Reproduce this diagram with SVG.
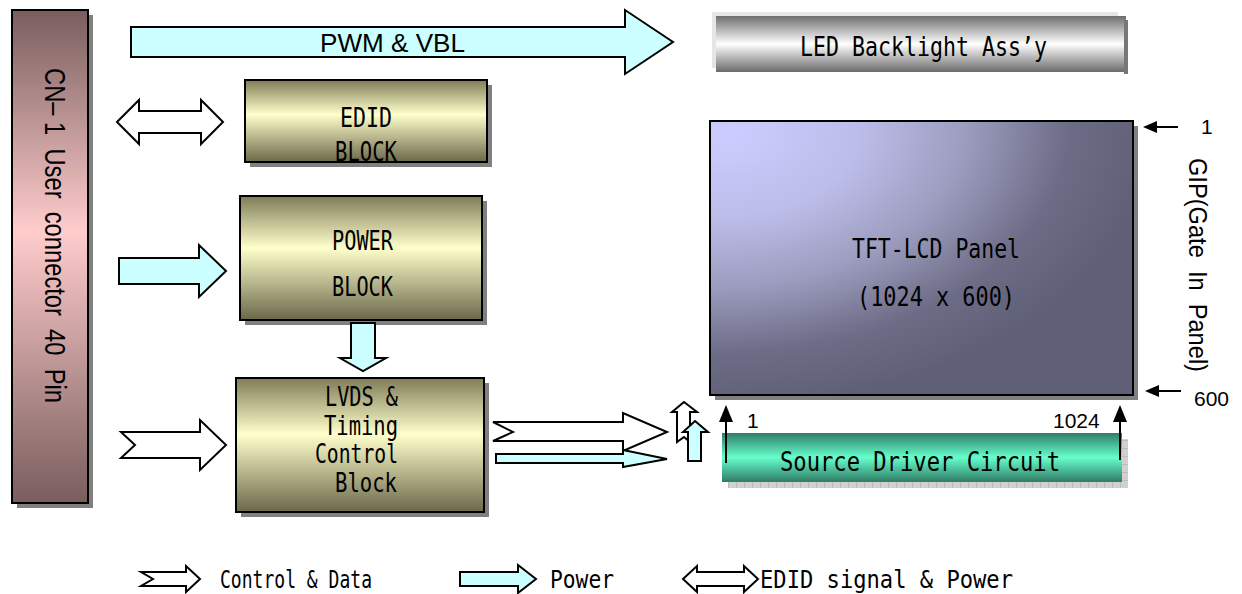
<svg xmlns="http://www.w3.org/2000/svg" width="1242" height="594" viewBox="0 0 1242 594">
<defs>
<linearGradient id="gOlive" x1="0" y1="0" x2="0" y2="1">
<stop offset="0" stop-color="#7f7c57"/><stop offset="0.42" stop-color="#ffffcc"/><stop offset="1" stop-color="#6b6849"/>
</linearGradient>
<linearGradient id="gCn" x1="0" y1="0" x2="0" y2="1">
<stop offset="0" stop-color="#795d5d"/><stop offset="0.45" stop-color="#ffcccc"/><stop offset="1" stop-color="#795d5d"/>
</linearGradient>
<linearGradient id="gLed" x1="0" y1="0" x2="0" y2="1">
<stop offset="0" stop-color="#6e6e6e"/><stop offset="0.5" stop-color="#ffffff"/><stop offset="1" stop-color="#6a6a6a"/>
</linearGradient>
<linearGradient id="gSrc" x1="0" y1="0" x2="0" y2="1">
<stop offset="0" stop-color="#2f7d66"/><stop offset="0.5" stop-color="#66ffcc"/><stop offset="1" stop-color="#2f7b64"/>
</linearGradient>
<radialGradient id="gTft" cx="0" cy="0" r="1.05" fx="0.05" fy="0.05">
<stop offset="0" stop-color="#ccccff"/><stop offset="0.3" stop-color="#bdbdea"/><stop offset="0.55" stop-color="#9d9dc0"/><stop offset="0.8" stop-color="#6c6c86"/><stop offset="1" stop-color="#5f5f77"/>
</radialGradient>
<pattern id="hatch" width="8" height="8" patternUnits="userSpaceOnUse">
<rect width="8" height="8" fill="#d0d0d0"/><path d="M0 0H8M0 0V8" stroke="#a8a8a8" stroke-width="1"/>
</pattern>
<style>
.box{stroke:#000;stroke-width:2}
.shadow{fill:#808080}
.mono{font-family:"DejaVu Sans Mono",monospace;font-size:26px;fill:#000}
.leg{font-family:"DejaVu Sans Mono",monospace;font-size:24px;fill:#000}
.sans{font-family:"Liberation Sans",Arial,sans-serif;fill:#000}
.cyan{fill:#ccffff;stroke:#000;stroke-width:2;stroke-linejoin:miter}
.white{fill:#ffffff;stroke:#000;stroke-width:2;stroke-linejoin:miter}
.thin{stroke:#000;stroke-width:2;fill:none}
.head{fill:#000}
</style>
</defs>
<rect width="1242" height="594" fill="#ffffff"/>

<g id="cn1">
<rect class="shadow" x="17" y="15" width="76" height="493"/>
<rect class="box" x="12" y="10" width="76" height="493" fill="url(#gCn)"/>
<text class="sans" font-size="29" xml:space="preserve" transform="translate(45,68) rotate(90)" textLength="335" lengthAdjust="spacingAndGlyphs">CN– 1  User  connector  40  Pin</text>
</g>

<g id="led">
<rect x="712" y="12" width="406" height="56" fill="#e6e6e6"/>
<rect x="716" y="16" width="410" height="56" fill="url(#gLed)"/>
<rect x="1124" y="20" width="4" height="54" fill="#777"/>
<text class="mono" x="800" y="56" textLength="247" lengthAdjust="spacingAndGlyphs">LED Backlight Ass’y</text>
</g>

<g id="edid">
<rect class="shadow" x="250" y="85" width="242" height="82"/>
<rect class="box" x="245" y="80" width="242" height="82" fill="url(#gOlive)"/>
<text class="mono" x="340" y="127" textLength="52" lengthAdjust="spacingAndGlyphs">EDID</text>
<text class="mono" x="335" y="161" textLength="62" lengthAdjust="spacingAndGlyphs">BLOCK</text>
</g>

<g id="power">
<rect class="shadow" x="245" y="201" width="242" height="124"/>
<rect class="box" x="240" y="196" width="242" height="124" fill="url(#gOlive)"/>
<text class="mono" x="332" y="250" textLength="61" lengthAdjust="spacingAndGlyphs">POWER</text>
<text class="mono" x="332" y="296" textLength="61" lengthAdjust="spacingAndGlyphs">BLOCK</text>
</g>

<g id="lvds">
<rect class="shadow" x="241" y="383" width="248" height="134"/>
<rect class="box" x="236" y="378" width="248" height="134" fill="url(#gOlive)"/>
<text class="mono" x="325" y="406" textLength="73" lengthAdjust="spacingAndGlyphs">LVDS &amp;</text>
<text class="mono" x="324" y="435" textLength="74" lengthAdjust="spacingAndGlyphs">Timing</text>
<text class="mono" x="315" y="463" textLength="83" lengthAdjust="spacingAndGlyphs">Control</text>
<text class="mono" x="335" y="492" textLength="62" lengthAdjust="spacingAndGlyphs">Block</text>
</g>

<g id="tft">
<rect class="shadow" x="715" y="126" width="423" height="274"/>
<rect class="box" x="710" y="121" width="423" height="274" fill="url(#gTft)"/>
<text class="mono" x="852" y="258" textLength="168" lengthAdjust="spacingAndGlyphs">TFT-LCD Panel</text>
<text class="mono" x="857" y="306" textLength="158" lengthAdjust="spacingAndGlyphs">(1024 x 600)</text>
</g>

<g id="source">
<rect x="728" y="439" width="400" height="49" fill="url(#hatch)"/>
<rect x="722" y="433" width="400" height="49" fill="url(#gSrc)"/>
<text class="mono" x="780" y="471" textLength="280" lengthAdjust="spacingAndGlyphs">Source Driver Circuit</text>
</g>

<g id="connectors">
<polygon class="cyan" points="131,27 625,27 625,10 673,42 625,74 625,57 131,57"/>
<text class="sans" font-size="25" x="320" y="52" textLength="145" lengthAdjust="spacingAndGlyphs">PWM &amp; VBL</text>
<polygon class="white" points="117,122 139,100 139,111 201,111 201,100 223,122 201,144 201,133 139,133 139,144"/>
<polygon class="cyan" points="119,258 199,258 199,245 226,271 199,297 199,284 119,284"/>
<polygon class="cyan" points="351,323 375,323 375,358 386,358 363,371 340,358 351,358"/>
<polygon class="white" points="121,432 200,432 200,420 226,445 200,470 200,458 121,458 135,445"/>
<polygon class="white" points="493,422 623,422 623,413 667,432 623,451 623,441 493,441 513,432"/>
<polygon class="cyan" points="496,454 623,454 623,450 667,459 623,467 623,463 496,463"/>
<polygon class="white" points="684,402 697,412 690,412 690,442 684,437 677,442 677,412 672,412"/>
<polygon class="cyan" points="695,421 708,432 701,432 701,461 688,461 688,432 683,432"/>
<line class="thin" x1="1178" y1="127" x2="1155" y2="127"/>
<polygon class="head" points="1143,127 1157,121 1157,133"/>
<line class="thin" x1="1181" y1="391" x2="1157" y2="391"/>
<polygon class="head" points="1145,391 1159,385 1159,397"/>
<line class="thin" x1="726" y1="463" x2="726" y2="418"/>
<polygon class="head" points="726,405 719,422 733,422"/>
<line class="thin" x1="1120" y1="460" x2="1120" y2="418"/>
<polygon class="head" points="1120,405 1113,422 1127,422"/>
</g>

<g id="labels">
<text class="sans" font-size="21" x="1201" y="134">1</text>
<text class="sans" font-size="21" x="1194" y="406">600</text>
<text class="sans" font-size="25" xml:space="preserve" transform="translate(1189,158) rotate(90)" textLength="214" lengthAdjust="spacingAndGlyphs">GIP(Gate  In  Panel)</text>
<text class="sans" font-size="21" x="747" y="428">1</text>
<text class="sans" font-size="21" x="1053" y="428">1024</text>
</g>

<g id="legend">
<polygon class="white" points="141,572 186,572 186,566 200,579 186,592 186,586 141,586 153,579"/>
<text class="leg" x="220" y="588" textLength="152" lengthAdjust="spacingAndGlyphs">Control &amp; Data</text>
<polygon class="cyan" points="460,572 518,572 518,565 536,579 518,593 518,586 460,586"/>
<text class="leg" x="550" y="588" textLength="64" lengthAdjust="spacingAndGlyphs">Power</text>
<polygon class="white" points="683,579 697,566 697,572 744,572 744,566 758,579 744,592 744,586 697,586 697,592"/>
<text class="leg" x="760" y="588" textLength="253" lengthAdjust="spacingAndGlyphs">EDID signal &amp; Power</text>
</g>
</svg>
